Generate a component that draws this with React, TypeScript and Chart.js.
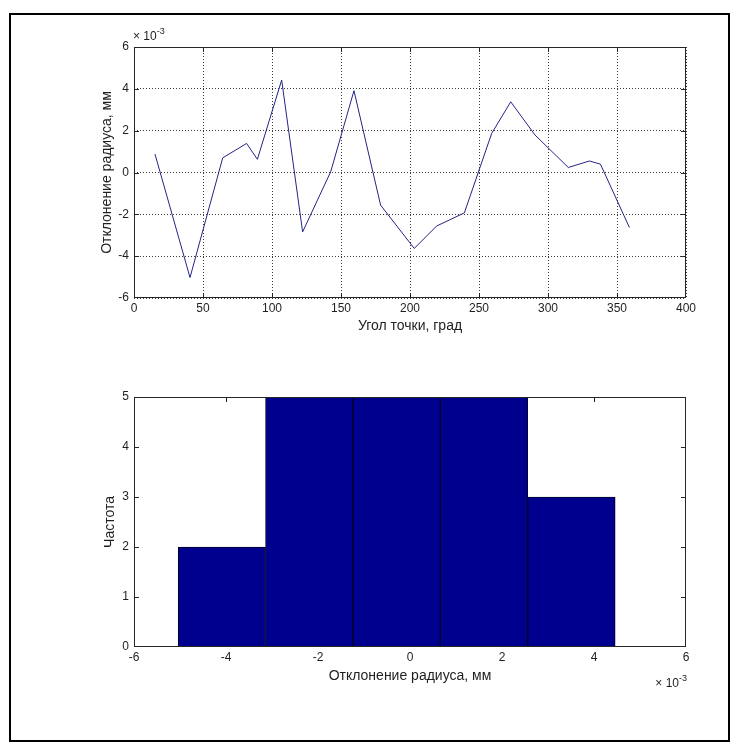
import React, { useEffect, useRef } from "react";
import { Chart, registerables } from "chart.js";

Chart.register(...registerables);

// Top plot: deviation of radius (x10^-3 mm) vs. point angle (deg)
const angleDeg = [15.2, 40.6, 64.3, 81.6, 89.4, 107, 122.2, 142.5, 159.4, 178.7, 203.1, 219.3, 239.4, 259.2, 273, 290.6, 314.7, 330, 338, 359];
const deviationE3 = [0.88, -5.02, 0.7, 1.39, 0.63, 4.42, -2.84, 0.03, 3.91, -1.56, -3.63, -2.56, -1.93, 1.87, 3.38, 1.79, 0.24, 0.55, 0.4, -2.63];

// Bottom plot: histogram of deviations
const binCentersE3 = [-4.09, -2.19, -0.29, 1.61, 3.51];
const binCounts = [2, 5, 5, 5, 3];

const topXLabel = "Угол точки, град";
const topYLabel = "Отклонение радиуса, мм";
const botXLabel = "Отклонение радиуса, мм";
const botYLabel = "Частота";
const exponentText = "-3";

const FONT = "'Liberation Sans', Arial, sans-serif";
const TEXT = "#1f1f1f";
const AXIS = "#262626";
const TICK_SIZE = 12;
const TITLE_SIZE = 14;

const boxTicks = {
  id: "boxTicks",
  beforeDatasetsDraw(chart: any) {
    const { ctx, chartArea: a, scales } = chart;
    const L = 5;
    ctx.save();
    ctx.strokeStyle = AXIS;
    ctx.lineWidth = 1;
    ctx.beginPath();
    const xs = scales.x.ticks.map((t: any) => t.value);
    xs.slice(1, -1).forEach((v: number) => {
      const p = Math.round(scales.x.getPixelForValue(v)) + 0.5;
      ctx.moveTo(p, a.bottom);
      ctx.lineTo(p, a.bottom - L);
      ctx.moveTo(p, a.top);
      ctx.lineTo(p, a.top + L);
    });
    const ys = scales.y.ticks.map((t: any) => t.value);
    ys.slice(1, -1).forEach((v: number) => {
      const p = Math.round(scales.y.getPixelForValue(v)) + 0.5;
      ctx.moveTo(a.left, p);
      ctx.lineTo(a.left + L, p);
      ctx.moveTo(a.right, p);
      ctx.lineTo(a.right - L, p);
    });
    ctx.stroke();
    ctx.restore();
  },
  afterDatasetsDraw(chart: any) {
    const { ctx, chartArea: a } = chart;
    ctx.save();
    ctx.strokeStyle = AXIS;
    ctx.lineWidth = 1;
    ctx.strokeRect(a.left + 0.5, a.top + 0.5, a.right - a.left - 1, a.bottom - a.top - 1);
    ctx.restore();
  },
};

function exponentPlugin(x: number, y: number, align: "left" | "right") {
  return {
    id: "exponent",
    afterDraw(chart: any) {
      const ctx = chart.ctx;
      ctx.save();
      ctx.fillStyle = TEXT;
      ctx.textBaseline = "alphabetic";
      ctx.textAlign = "left";
      ctx.font = `12px ${FONT}`;
      const base = "× 10";
      const w = ctx.measureText(base).width;
      ctx.font = `9px ${FONT}`;
      const ws = ctx.measureText(exponentText).width;
      const x0 = align === "left" ? x : x - w - ws;
      ctx.font = `12px ${FONT}`;
      ctx.fillText(base, x0, y);
      ctx.font = `9px ${FONT}`;
      ctx.fillText(exponentText, x0 + w, y - 6);
      ctx.restore();
    },
  };
}

function makeScales(opts: {
  xmin: number; xmax: number; xstep: number;
  ymin: number; ymax: number; ystep: number;
  grid: boolean; xAxisH: number; yAxisW: number;
  xTitle: string; yTitle: string; xTitlePad: number; yTitlePad: number; xTickPad: number;
}) {
  return {
    x: {
      type: "linear",
      min: opts.xmin,
      max: opts.xmax,
      offset: false,
      ticks: { stepSize: opts.xstep, color: TEXT, font: { family: FONT, size: TICK_SIZE }, padding: opts.xTickPad, maxRotation: 0, autoSkip: false },
      grid: { display: opts.grid, color: "#3a3a3a", lineWidth: 1, drawTicks: false, offset: false },
      border: { display: false, dash: [1, 2] },
      title: { display: true, text: opts.xTitle, color: TEXT, font: { family: FONT, size: TITLE_SIZE }, padding: { top: 0, bottom: opts.xTitlePad } },
      afterFit: (s: any) => { s.height = opts.xAxisH; s.paddingLeft = 0; s.paddingRight = 0; },
    },
    y: {
      type: "linear",
      min: opts.ymin,
      max: opts.ymax,
      ticks: { stepSize: opts.ystep, color: TEXT, font: { family: FONT, size: TICK_SIZE }, padding: 5 },
      grid: { display: opts.grid, color: "#3a3a3a", lineWidth: 1, drawTicks: false },
      border: { display: false, dash: [1, 2] },
      title: { display: true, text: opts.yTitle, color: TEXT, font: { family: FONT, size: TITLE_SIZE }, padding: { top: opts.yTitlePad, bottom: 0 } },
      afterFit: (s: any) => { s.width = opts.yAxisW; s.paddingTop = 0; s.paddingBottom = 0; },
    },
  };
}

export default function App() {
  const topRef = useRef<HTMLCanvasElement>(null);
  const botRef = useRef<HTMLCanvasElement>(null);

  useEffect(() => {
    const top = new Chart(topRef.current!, {
      type: "scatter",
      data: {
        datasets: [
          {
            data: angleDeg.map((a, i) => ({ x: a, y: deviationE3[i] })),
            showLine: true,
            borderColor: "rgb(35,35,135)",
            borderWidth: 1,
            pointRadius: 0,
            tension: 0,
          },
        ],
      },
      options: {
        animation: false,
        responsive: false,
        devicePixelRatio: 1,
        layout: { padding: { left: 0, top: 47, right: 53, bottom: 0 } },
        plugins: { legend: { display: false }, tooltip: { enabled: false } },
        scales: makeScales({
          xmin: 0, xmax: 400, xstep: 50, ymin: -6, ymax: 6, ystep: 2, grid: true,
          xAxisH: 62, yAxisW: 134, xTitle: topXLabel, yTitle: topYLabel,
          xTitlePad: 25, yTitlePad: 99, xTickPad: 3,
        }) as any,
      },
      plugins: [boxTicks, exponentPlugin(133, 40, "left")],
    } as any);

    const bot = new Chart(botRef.current!, {
      type: "bar",
      data: {
        datasets: [
          {
            data: binCentersE3.map((c, i) => ({ x: c, y: binCounts[i] })),
            backgroundColor: "rgb(0,0,143)",
            borderColor: "#000020",
            borderWidth: 1,
            borderSkipped: false,
            barPercentage: 1,
            categoryPercentage: 1,
          },
        ],
      },
      options: {
        animation: false,
        responsive: false,
        devicePixelRatio: 1,
        layout: { padding: { left: 0, top: 27, right: 53, bottom: 0 } },
        plugins: { legend: { display: false }, tooltip: { enabled: false } },
        scales: makeScales({
          xmin: -6, xmax: 6, xstep: 2, ymin: 0, ymax: 5, ystep: 1, grid: false,
          xAxisH: 104, yAxisW: 134, xTitle: botXLabel, yTitle: botYLabel,
          xTitlePad: 66, yTitlePad: 102, xTickPad: 3,
        }) as any,
      },
      plugins: [boxTicks, exponentPlugin(687, 317, "right")],
    } as any);

    return () => {
      top.destroy();
      bot.destroy();
    };
  }, []);

  return (
    <div style={{ position: "absolute", left: 0, top: 0, width: 739, height: 751, background: "#fff" }}>
      <canvas ref={topRef} width={739} height={360} style={{ position: "absolute", left: 0, top: 0, display: "block" }} />
      <canvas ref={botRef} width={739} height={381} style={{ position: "absolute", left: 0, top: 370, display: "block" }} />
      <div
        style={{
          position: "absolute",
          left: 9,
          top: 13,
          width: 721,
          height: 729,
          border: "2px solid #000",
          boxSizing: "border-box",
          pointerEvents: "none",
        }}
      />
    </div>
  );
}
